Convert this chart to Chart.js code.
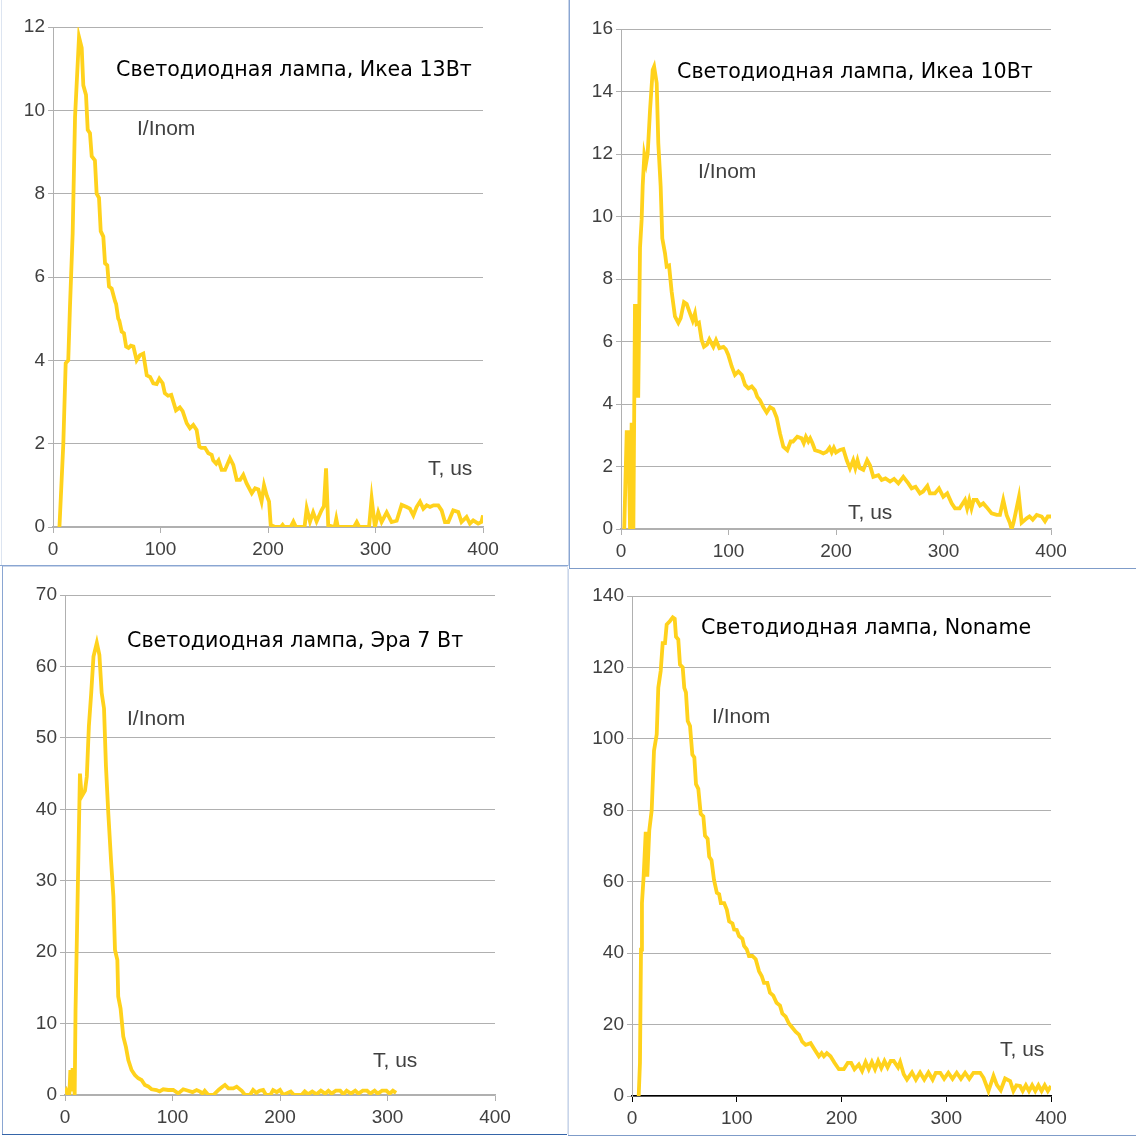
<!DOCTYPE html>
<html>
<head>
<meta charset="utf-8">
<script src="https://cdn.jsdelivr.net/npm/chart.js@4.4.0/dist/chart.umd.min.js"></script>
<style>
body { margin: 0; background: #fff; width: 1136px; height: 1137px; position: relative; overflow: hidden; }
canvas { position: absolute; }
.line { position: absolute; }
.lbl { position: absolute; white-space: nowrap; line-height: 20px; }
.title { font: 20.6px 'DejaVu Sans', sans-serif; color: #000; }
.axis { font: 21px 'Liberation Sans', Arial, sans-serif; color: #404040; }
</style>
</head>
<body>
<canvas id="c1" width="568" height="565" style="left:0;top:0"></canvas>
<canvas id="c2" width="567" height="567" style="left:570px;top:0"></canvas>
<canvas id="c3" width="564" height="567" style="left:3px;top:567px"></canvas>
<canvas id="c4" width="567" height="566" style="left:569px;top:569px"></canvas>

<!-- panel frames -->
<div class="line" style="left:1px;top:0;width:1px;height:565px;background:#dde5f1"></div>
<div class="line" style="left:0;top:565px;width:568px;height:1px;background:#8aa6d2"></div>
<div class="line" style="left:568px;top:0;width:1px;height:566px;background:#c9d5ea"></div>
<div class="line" style="left:569px;top:0;width:1px;height:568px;background:#8aa6d2"></div>
<div class="line" style="left:569px;top:568px;width:567px;height:1px;background:#7f9cc9"></div>
<div class="line" style="left:2px;top:566px;width:565px;height:1px;background:#c9d5ea"></div>
<div class="line" style="left:2px;top:566px;width:1px;height:568px;background:#8aa6d2"></div>
<div class="line" style="left:2px;top:1134px;width:565px;height:1px;background:#3565a8"></div>
<div class="line" style="left:567px;top:566px;width:1px;height:568px;background:#dde5f1"></div>
<div class="line" style="left:568px;top:569px;width:1px;height:566px;background:#c9d5ea"></div>
<div class="line" style="left:568px;top:1135px;width:568px;height:1px;background:#7f9cc9"></div>

<!-- chart texts -->
<div class="lbl title" style="left:116px;top:57px">Светодиодная лампа, Икеа 13Вт</div>
<div class="lbl axis" style="left:137px;top:116px">I/Inom</div>
<div class="lbl axis" style="left:428px;top:456px">T, us</div>

<div class="lbl title" style="left:677px;top:59px">Светодиодная лампа, Икеа 10Вт</div>
<div class="lbl axis" style="left:698px;top:159px">I/Inom</div>
<div class="lbl axis" style="left:848px;top:500px">T, us</div>

<div class="lbl title" style="left:127px;top:628px">Светодиодная лампа, Эра 7 Вт</div>
<div class="lbl axis" style="left:127px;top:706px">I/Inom</div>
<div class="lbl axis" style="left:373px;top:1048px">T, us</div>

<div class="lbl title" style="left:701px;top:615px">Светодиодная лампа, Noname</div>
<div class="lbl axis" style="left:712px;top:704px">I/Inom</div>
<div class="lbl axis" style="left:1000px;top:1037px">T, us</div>

<script>
// LED lamp inrush current, I/Inom vs time (us)

const xTicks = [0, 100, 200, 300, 400];

// Ikea 13W
const ikea13Time = [6, 9.6, 11.8, 14.2, 15.8, 18.3, 20.5, 24.2, 26.7, 28.2, 30.7, 32.3, 34.4, 36, 39, 40.6, 42.8, 44.4, 46.8, 48.4,
    50.5, 52.1, 54.6, 57.7, 58.7, 60.7, 61.7, 63.9, 66, 68, 70.2, 72.4, 74.8, 77.8, 80.9, 84, 87.2, 90.3, 93.3, 96.4,
    98.9, 102, 104, 107, 110, 114.4, 118, 120.6, 124.4, 127.4, 130.5, 133.6, 136.1, 138, 141.4, 144.5, 147.6, 149, 151.8, 154,
    156.9, 160, 164.6, 167.7, 170.9, 174, 177, 180, 184.9, 188, 191, 194, 196.3, 198.9, 201, 202.5, 206.5, 212, 213.6, 215,
    221, 223.6, 226, 234, 236, 239.1, 242, 245.2, 249.8, 252, 254, 256, 262, 263.5, 265, 280, 282.6, 285, 294, 296.4,
    299.5, 302.6, 305.7, 310.4, 315, 319.7, 324.3, 329, 332, 335.2, 338.2, 341.4, 344.5, 347.6, 350.7, 354, 358.4, 361.5, 364.6, 367.7,
    372.3, 377, 380, 384.7, 387.8, 390.9, 395.5, 398.6, 400];
const ikea13Value = [0, 2.0, 3.93, 4.0, 5.3, 7.05, 9.84, 11.76, 11.5, 10.6, 10.37, 9.53, 9.45, 8.9, 8.8, 8.0, 7.9, 7.1, 6.97, 6.33,
    6.28, 5.77, 5.72, 5.42, 5.35, 5.0, 4.95, 4.69, 4.65, 4.33, 4.3, 4.35, 4.33, 4.0, 4.12, 4.16, 3.64, 3.6, 3.45, 3.43,
    3.56, 3.45, 3.21, 3.15, 3.17, 2.8, 2.87, 2.78, 2.49, 2.37, 2.45, 2.33, 1.93, 1.9, 1.9, 1.77, 1.73, 1.6, 1.52, 1.6,
    1.37, 1.37, 1.65, 1.49, 1.13, 1.13, 1.25, 1.05, 0.81, 0.93, 0.9, 0.61, 1.0, 0.75, 0.61, 0.05, 0, 0, 0.05, 0,
    0, 0.13, 0, 0, 0.45, 0.13, 0.35, 0.13, 0.4, 0.5, 1.41, 0.04, 0, 0.2, 0, 0, 0.12, 0, 0, 0.68,
    0, 0.35, 0.12, 0.35, 0.12, 0.15, 0.53, 0.48, 0.44, 0.28, 0.48, 0.61, 0.44, 0.52, 0.48, 0.52, 0.52, 0.4, 0.12, 0.12,
    0.4, 0.36, 0.12, 0.24, 0.08, 0.16, 0.08, 0.12, 0.28];

// Ikea 10W
const ikea10Time = [3, 5.3, 6.8, 8.4, 9.9, 11.5, 13, 14, 15.5, 16, 17.7, 19.2, 20.2, 21.7, 23.3, 24.8, 27, 29.5, 30.8, 33.2,
    34.7, 36.9, 38.4, 40.9, 42.5, 44.7, 47.1, 50.2, 53.3, 55.5, 58.6, 61.1, 64.2, 66.7, 68.8, 70.3, 72.5, 75, 77.2, 80,
    82.2, 85.9, 88.4, 91.5, 95.3, 97.5, 99.8, 103, 106, 109.2, 112.4, 115.4, 118.5, 121.6, 124.6, 126.8, 129.3, 132.4, 135.5, 138.6,
    141.7, 144.8, 147.9, 151, 154.7, 157.8, 160, 164, 168, 170, 172, 174.3, 176, 178, 180.5, 185.1, 188.2, 191.3, 194, 196,
    198, 200, 203.7, 206.8, 210, 213, 216, 218, 220, 222, 225.4, 229, 231.6, 234.7, 239.4, 242.5, 246, 250.3, 254, 258,
    262.6, 267.3, 270.4, 274, 278.1, 281, 285, 287.4, 292, 295.8, 299.8, 303.5, 307.6, 310.7, 315, 320, 322, 324, 326, 328,
    330.9, 334, 337, 340.1, 344.8, 349.5, 352.5, 355.6, 358.7, 361.9, 363.4, 365, 367, 370.2, 372.7, 377.4, 380, 383, 386.7, 391.3,
    394.4, 397, 400];
const ikea10Value = [0, 3.1, 3.1, 0, 3.4, 0, 7.2, 4.2, 7.2, 4.2, 9.0, 9.9, 11.0, 11.97, 11.7, 12.0, 13.4, 14.69, 14.8, 14.27,
    12.35, 10.96, 9.3, 8.83, 8.4, 8.43, 7.6, 6.8, 6.6, 6.75, 7.26, 7.2, 6.9, 6.67, 6.9, 6.56, 6.6, 6.05, 5.83, 5.9,
    6.07, 5.83, 6.04, 5.79, 5.83, 5.75, 5.57, 5.2, 4.93, 5.04, 4.93, 4.61, 4.5, 4.56, 4.44, 4.23, 4.12, 3.9, 3.73, 3.9,
    3.84, 3.57, 3.06, 2.63, 2.52, 2.8, 2.8, 2.95, 2.9, 2.75, 2.95, 2.8, 2.9, 2.75, 2.52, 2.47, 2.42, 2.47, 2.6, 2.45,
    2.6, 2.45, 2.53, 2.56, 2.2, 1.94, 2.2, 1.95, 2.2, 1.95, 1.89, 2.2, 2.04, 1.67, 1.72, 1.57, 1.62, 1.52, 1.6, 1.46,
    1.67, 1.46, 1.3, 1.35, 1.14, 1.2, 1.38, 1.14, 1.14, 1.3, 1.03, 1.14, 0.82, 0.66, 0.66, 0.93, 0.66, 0.93, 0.66, 0.93,
    0.93, 0.75, 0.82, 0.7, 0.5, 0.45, 0.45, 0.93, 0.45, 0.18, 0, 0.18, 0.5, 1.03, 0.2, 0.34, 0.4, 0.3, 0.45, 0.4,
    0.25, 0.4, 0.4];

// Era 7W
const era7Time = [0, 1, 2, 3, 4, 5, 6, 7, 8, 9, 9.8, 12.4, 13.9, 15.5, 18.6, 20.3, 22.2, 24.4, 26.5, 29.6,
    32, 34.1, 36.3, 38.1, 40.3, 42.8, 45, 46.5, 48.7, 49.5, 51.7, 54.2, 56.7, 58.9, 61.9, 65, 68.1, 71.2, 74.3, 77.4,
    80.5, 85.1, 88, 91.4, 96, 100.7, 105.3, 110, 114.6, 118.6, 122.4, 125.6, 128, 130, 133.3, 138, 142.8, 145.9, 148.8, 152,
    156.6, 159.7, 164.4, 167.4, 172, 175, 178, 181, 184.3, 187, 191, 193.6, 197, 200, 203, 207, 210, 213, 220, 223,
    226, 230, 234, 238, 242, 245, 248, 252, 256, 259, 262, 266, 270, 273, 277, 281, 284, 288, 291, 295,
    299, 302, 305, 308];
const era7Value = [0.5, 0.7, 0.2, 0, 0, 3.5, 0.5, 3.5, 3.5, 0, 11.9, 32.9, 45, 41.8, 42.6, 44.6, 51.6, 56.3, 61.4, 63.3,
    61.6, 56.3, 54.1, 46, 39.4, 32.9, 27.8, 20.3, 18.9, 13.8, 12.1, 8.2, 6.7, 4.9, 3.5, 2.8, 2.34, 2.1, 1.4, 1.2,
    0.8, 0.7, 0.5, 0.8, 0.7, 0.7, 0.23, 0.8, 0.6, 0.4, 0.7, 0.47, 0.2, 0.6, 0, 0, 0.7, 1.07, 1.4, 0.93,
    0.93, 1.17, 0.6, 0, 0, 0.7, 0.3, 0.6, 0.7, 0, 0, 0.7, 0.4, 0.7, 0, 0.3, 0.5, 0, 0, 0.5,
    0.1, 0.5, 0.1, 0.6, 0.2, 0.6, 0.2, 0.6, 0.6, 0.1, 0.6, 0.2, 0.6, 0.2, 0.6, 0.6, 0.2, 0.6, 0.2, 0.6,
    0.6, 0.2, 0.6, 0.3];

// Noname
const nonameTime = [6.4, 7.6, 8.6, 9.5, 11.1, 13.1, 14.6, 16.5, 18.8, 21, 23.6, 25.1, 27.4, 29.3, 31.5, 33.1, 36.3, 38.9, 40.8, 42,
    44.2, 45.8, 48.4, 49.9, 51.5, 53.2, 55.4, 57.6, 59.5, 61.1, 63.3, 65.6, 68.1, 69.7, 72.2, 73.7, 75.9, 78.3, 81, 83.2,
    84.8, 88, 90.5, 92.7, 95.9, 97.5, 100, 102.2, 105.4, 107, 109.5, 111.7, 114.9, 118.1, 121.3, 123.8, 126, 129.2, 131.7, 134.9,
    138, 141.3, 143.5, 146.7, 149.8, 152.4, 156.2, 159.4, 162.5, 165.7, 170.5, 174.3, 178.4, 181, 183.2, 186, 189.5, 193.3, 197.5, 202.2,
    206, 209.2, 212.4, 216.5, 219.7, 223, 226, 229, 232, 235, 238, 241, 244, 247, 249.8, 254, 256, 259.4, 262.5, 267.3,
    271, 275, 279, 283, 287, 290, 294.3, 298, 302, 306, 310, 314, 318, 322, 326, 332.4, 335.6, 340.3, 345.1, 348.3,
    352, 356.2, 361, 364.1, 367, 370.5, 373, 376, 379, 382, 385, 388, 391, 394, 397, 400];
const nonameValue = [0, 9.3, 41, 54, 61.5, 74, 61.4, 74.4, 80, 96.7, 101.3, 114.3, 119, 126.8, 126.8, 132, 133, 134, 133.6, 128.6,
    127.8, 120.8, 120, 114.3, 113, 105, 103.6, 95.6, 94.8, 87.3, 86, 79, 78.3, 72.9, 72, 67, 66, 60.5, 56.9, 56.5,
    54, 54, 52.2, 48.9, 48.3, 46.6, 46.5, 44.8, 44, 42, 41.1, 39.2, 39.2, 38.3, 34.9, 33.6, 31.7, 31.7, 28.9, 28.1,
    26.1, 25.3, 23.1, 22.2, 20.3, 19.4, 18, 17.2, 15.2, 14.3, 14.8, 13, 11.1, 12, 11.1, 12, 11.1, 9.3, 7.5, 7.5,
    9.3, 9.3, 7.5, 8.8, 7, 9.5, 7.5, 9.5, 7.5, 9.8, 7.8, 9.8, 8, 9.8, 9.8, 8, 9.5, 6.1, 4.6, 6.6,
    4.6, 6.6, 4.6, 6.6, 4.6, 6.5, 6.5, 4.8, 6.5, 4.8, 6.5, 4.8, 6.5, 4.8, 6.5, 6.5, 5.1, 1.4, 5.6, 3.1,
    1.6, 4.9, 4.2, 1.4, 3, 2.8, 1.4, 3, 1.4, 3, 1.4, 3, 1.4, 3, 1.4, 2.8];

function toPoints(times, values) {
    return times.map(function(t, i) { return { x: t, y: values[i] }; });
}

function makeChart(id, area, times, values, yMax, yStep, xAxisColor) {
    const canvas = document.getElementById(id);
    const xAxisHeight = 34;
    return new Chart(canvas.getContext('2d'), {
        type: 'line',
        data: {
            datasets: [{
                data: toPoints(times, values),
                borderColor: '#ffd21c',
                borderWidth: 3.8,
                pointRadius: 0,
                tension: 0,
                fill: false
            }]
        },
        options: {
            responsive: false,
            animation: false,
            events: [],
            layout: {
                padding: {
                    left: 0,
                    top: area.top,
                    right: canvas.width - area.right,
                    bottom: canvas.height - area.bottom - xAxisHeight
                }
            },
            plugins: {
                legend: { display: false },
                tooltip: { enabled: false }
            },
            scales: {
                x: {
                    type: 'linear',
                    min: 0,
                    max: 400,
                    afterBuildTicks: function(scale) {
                        scale.ticks = xTicks.map(function(v) { return { value: v }; });
                    },
                    afterFit: function(scale) { scale.height = xAxisHeight; },
                    grid: {
                        drawOnChartArea: false,
                        drawTicks: true,
                        tickLength: 6,
                        color: xAxisColor
                    },
                    border: { display: true, color: xAxisColor, width: 1.5 },
                    ticks: {
                        padding: 5,
                        maxRotation: 0,
                        color: '#404040',
                        font: { family: "'Liberation Sans', Arial, sans-serif", size: 19 }
                    }
                },
                y: {
                    min: 0,
                    max: yMax,
                    afterFit: function(scale) { scale.width = area.left; },
                    grid: {
                        color: '#b0b0b0',
                        lineWidth: 1,
                        drawTicks: true,
                        tickLength: 5
                    },
                    border: { display: true, color: '#b0b0b0' },
                    ticks: {
                        stepSize: yStep,
                        padding: 3,
                        color: '#404040',
                        font: { family: "'Liberation Sans', Arial, sans-serif", size: 19 }
                    }
                }
            }
        }
    });
}

document.addEventListener('DOMContentLoaded', function() {
    makeChart('c1', { left: 53, top: 27, right: 483, bottom: 527 }, ikea13Time, ikea13Value, 12, 2, '#b0b0b0');
    makeChart('c2', { left: 51, top: 29, right: 481, bottom: 529 }, ikea10Time, ikea10Value, 16, 2, '#b0b0b0');
    makeChart('c3', { left: 62, top: 28, right: 492, bottom: 528 }, era7Time, era7Value, 70, 10, '#b0b0b0');
    makeChart('c4', { left: 63, top: 27, right: 482, bottom: 527 }, nonameTime, nonameValue, 140, 20, '#000000');
});
</script>
</body>
</html>
